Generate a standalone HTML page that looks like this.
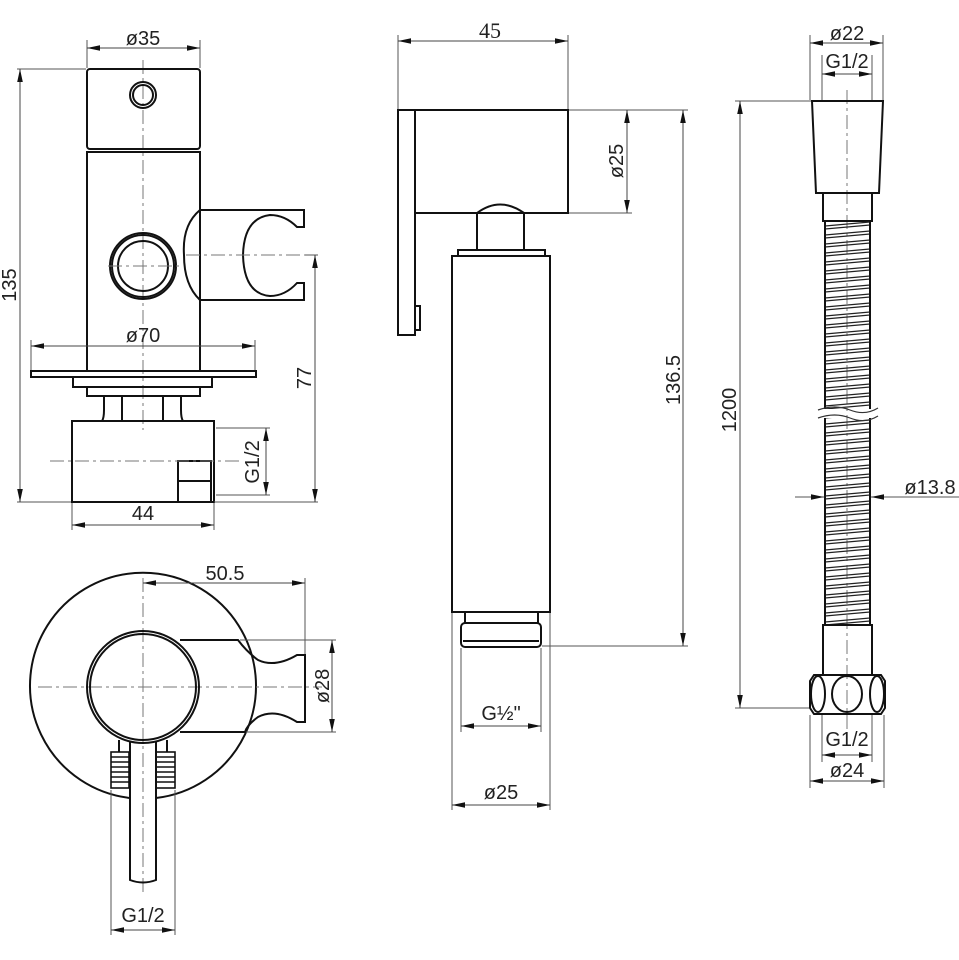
<!DOCTYPE html>
<html><head><meta charset="utf-8"><style>
html,body{margin:0;padding:0;background:#fff;}
svg{display:block;}
text{font-family:"Liberation Sans",sans-serif;font-size:20px;fill:#222;}
.o{fill:none;stroke:#111;stroke-width:2;}
.d{fill:none;stroke:#555;stroke-width:1;}
.c{fill:none;stroke:#777;stroke-width:1;stroke-dasharray:14,4,3,4;}
.a{fill:none;stroke:#444;stroke-width:1;marker-start:url(#ms);marker-end:url(#me);}
</style></head><body>
<svg width="959" height="960" viewBox="0 0 959 960" xmlns="http://www.w3.org/2000/svg">
<defs>
<marker id="me" markerWidth="14" markerHeight="8" refX="13" refY="4" orient="auto" markerUnits="userSpaceOnUse"><path d="M0,1.2 L13,4 L0,6.8Z" fill="#111"/></marker>
<marker id="ms" markerWidth="14" markerHeight="8" refX="1" refY="4" orient="auto" markerUnits="userSpaceOnUse"><path d="M14,1.2 L1,4 L14,6.8Z" fill="#111"/></marker>
<pattern id="rib" x="825" y="221" width="45" height="9" patternUnits="userSpaceOnUse">
<path d="M0,5 L45,1 M0,8 L45,4" stroke="#222" stroke-width="1.3" fill="none"/>
</pattern>
</defs>

<!-- ===== LEFT SIDE VIEW ===== -->
<line class="c" x1="143" y1="60" x2="143" y2="430"/>
<rect class="o" x="87" y="69" width="113" height="80" rx="3"/>
<rect class="o" x="87" y="152" width="113" height="219"/>
<circle class="o" cx="143" cy="95" r="13"/>
<circle class="o" cx="143" cy="95" r="10"/>
<circle class="o" cx="143" cy="266" r="33"/>
<circle class="o" cx="143" cy="266" r="31"/>
<circle class="o" cx="143" cy="266" r="25"/>
<line class="c" x1="108" y1="266" x2="180" y2="266"/>
<path class="o" d="M200,210 Q182,225 184,255 Q184,285 200,300 L304,300 L304,283 L297,283 Q285,296 270,296 Q244,294 243,255 Q244,218 270,215 Q285,215 297,227 L304,227 L304,210 Z"/>
<line class="c" x1="186" y1="255" x2="318" y2="255"/>
<rect class="o" x="31" y="371" width="225" height="6"/>
<rect class="o" x="73" y="377" width="139" height="10"/>
<rect class="o" x="87" y="387" width="113" height="9"/>
<path class="o" d="M104,396 L104,410 Q104,418 102,421 L183,421 Q181,418 181,410 L181,396"/>
<line class="o" x1="122" y1="396" x2="122" y2="421"/>
<line class="o" x1="163" y1="396" x2="163" y2="421"/>
<rect class="o" x="72" y="421" width="142" height="81"/>
<rect class="o" x="178" y="461" width="33" height="41"/>
<line class="o" x1="178" y1="481" x2="211" y2="481"/>
<line class="c" x1="50" y1="461" x2="240" y2="461"/>
<!-- dims -->
<line class="d" x1="87" y1="40" x2="87" y2="68"/>
<line class="d" x1="200" y1="40" x2="200" y2="68"/>
<line class="a" x1="87" y1="48" x2="200" y2="48"/>
<text x="143" y="45" text-anchor="middle">ø35</text>
<line class="d" x1="17" y1="69" x2="86" y2="69"/>
<line class="d" x1="17" y1="502" x2="71" y2="502"/>
<line class="a" x1="20" y1="69" x2="20" y2="502"/>
<text transform="translate(16,285) rotate(-90)" text-anchor="middle">135</text>
<line class="d" x1="31" y1="340" x2="31" y2="370"/>
<line class="d" x1="255" y1="340" x2="255" y2="370"/>
<line class="a" x1="31" y1="346" x2="255" y2="346"/>
<text x="143" y="342" text-anchor="middle">ø70</text>
<line class="d" x1="305" y1="255" x2="318" y2="255"/>
<line class="d" x1="214" y1="502" x2="318" y2="502"/>
<line class="a" x1="315" y1="255" x2="315" y2="502"/>
<text transform="translate(311,378) rotate(-90)" text-anchor="middle">77</text>
<line class="d" x1="216" y1="428" x2="270" y2="428"/>
<line class="d" x1="216" y1="495" x2="270" y2="495"/>
<line class="a" x1="266" y1="428" x2="266" y2="495"/>
<text transform="translate(259,462) rotate(-90)" text-anchor="middle">G1/2</text>
<line class="d" x1="72" y1="503" x2="72" y2="530"/>
<line class="d" x1="214" y1="503" x2="214" y2="530"/>
<line class="a" x1="72" y1="525" x2="214" y2="525"/>
<text x="143" y="520" text-anchor="middle">44</text>

<!-- ===== LEFT FRONT VIEW ===== -->
<path class="o" d="M130,798 A113,113 0 1 1 156,798"/>
<line class="c" x1="143" y1="578" x2="143" y2="895"/>
<line class="c" x1="38" y1="687" x2="322" y2="687"/>
<path class="o" d="M180,640 L238,640 Q247,652 258,660 Q275,668 297,655 L305,655 L305,722 L297,722 Q275,708 258,717 Q247,725 245,732 L180,732"/>
<circle class="o" cx="143" cy="687" r="56"/>
<circle class="o" cx="143" cy="687" r="53"/>
<path class="o" d="M130,742 L130,880 Q143,885 156,880 L156,742"/>
<line class="o" x1="119" y1="740" x2="119" y2="752"/>
<line class="o" x1="167" y1="740" x2="167" y2="752"/>
<g class="o" style="stroke-width:1.6">
<rect x="111" y="752" width="18" height="36"/>
<rect x="156" y="752" width="19" height="36"/>
<path d="M111,757 H129 M111,762 H129 M111,767 H129 M111,772 H129 M111,777 H129 M111,782 H129 M156,757 H175 M156,762 H175 M156,767 H175 M156,772 H175 M156,777 H175 M156,782 H175"/>
</g>
<line class="d" x1="305" y1="578" x2="305" y2="654"/>
<line class="a" x1="143" y1="583" x2="305" y2="583"/>
<text x="225" y="580" text-anchor="middle">50.5</text>
<line class="d" x1="240" y1="640" x2="336" y2="640"/>
<line class="d" x1="246" y1="732" x2="336" y2="732"/>
<line class="a" x1="332" y1="640" x2="332" y2="732"/>
<text transform="translate(329,686) rotate(-90)" text-anchor="middle">ø28</text>
<line class="d" x1="111" y1="790" x2="111" y2="935"/>
<line class="d" x1="175" y1="790" x2="175" y2="935"/>
<line class="a" x1="111" y1="930" x2="175" y2="930"/>
<text x="143" y="922" text-anchor="middle">G1/2</text>

<!-- ===== MIDDLE HAND SHOWER ===== -->
<rect class="o" x="398" y="110" width="17" height="225"/>
<rect class="o" x="415" y="306" width="5" height="24"/>
<rect class="o" x="415" y="110" width="153" height="103"/>
<path class="o" d="M477,250 L477,213 Q500,196 524,213 L524,250"/>
<rect class="o" x="458" y="250" width="87" height="6"/>
<rect class="o" x="452" y="256" width="98" height="356"/>
<rect class="o" x="465" y="612" width="73" height="11"/>
<rect class="o" x="461" y="623" width="80" height="24" rx="4"/>
<line class="o" x1="463" y1="641" x2="539" y2="641"/>
<line class="d" x1="398" y1="35" x2="398" y2="109"/>
<line class="d" x1="568" y1="35" x2="568" y2="109"/>
<line class="a" x1="398" y1="41" x2="568" y2="41"/>
<text x="490" y="38" text-anchor="middle" style="font-family:'Liberation Serif',serif;font-size:22px">45</text>
<line class="d" x1="569" y1="110" x2="688" y2="110"/>
<line class="d" x1="569" y1="213" x2="632" y2="213"/>
<line class="a" x1="627" y1="110" x2="627" y2="213"/>
<text transform="translate(623,161) rotate(-90)" text-anchor="middle">ø25</text>
<line class="d" x1="542" y1="646" x2="688" y2="646"/>
<line class="a" x1="683" y1="110" x2="683" y2="646"/>
<text transform="translate(680,380) rotate(-90)" text-anchor="middle">136.5</text>
<line class="d" x1="461" y1="648" x2="461" y2="732"/>
<line class="d" x1="541" y1="648" x2="541" y2="732"/>
<line class="a" x1="461" y1="726" x2="541" y2="726"/>
<text x="501" y="720" text-anchor="middle">G½"</text>
<line class="d" x1="452" y1="613" x2="452" y2="810"/>
<line class="d" x1="550" y1="613" x2="550" y2="810"/>
<line class="a" x1="452" y1="805" x2="550" y2="805"/>
<text x="501" y="799" text-anchor="middle">ø25</text>

<!-- ===== HOSE ===== -->
<line class="c" x1="847" y1="90" x2="847" y2="730"/>
<path class="o" d="M812,101 L883,101 L879,193 L816,193 Z"/>
<rect class="o" x="823" y="193" width="49" height="28"/>
<rect x="825" y="221" width="45" height="188" fill="url(#rib)"/>
<rect x="825" y="418" width="45" height="207" fill="url(#rib)"/>
<path class="o" d="M825,221 V409 M870,221 V409 M825,418 V625 M870,418 V625"/>
<path d="M818,410 Q835,404 850,410 T878,408 M818,418 Q835,412 850,418 T878,416" stroke="#333" stroke-width="1.2" fill="none"/>
<rect class="o" x="823" y="625" width="49" height="50"/>
<path class="o" d="M814,675 L881,675 L885,681 L885,708 L881,714 L814,714 L810,708 L810,681 Z"/>
<ellipse class="o" cx="818" cy="694" rx="7" ry="18"/>
<ellipse class="o" cx="847" cy="694" rx="15" ry="18"/>
<ellipse class="o" cx="877" cy="694" rx="7" ry="18"/>
<line class="d" x1="810" y1="35" x2="810" y2="100"/>
<line class="d" x1="883" y1="35" x2="883" y2="100"/>
<line class="a" x1="810" y1="43" x2="883" y2="43"/>
<text x="847" y="40" text-anchor="middle">ø22</text>
<line class="d" x1="822" y1="55" x2="822" y2="100"/>
<line class="d" x1="872" y1="55" x2="872" y2="100"/>
<line class="a" x1="822" y1="74" x2="872" y2="74"/>
<text x="847" y="68" text-anchor="middle">G1/2</text>
<line class="d" x1="735" y1="101" x2="811" y2="101"/>
<line class="d" x1="735" y1="708" x2="809" y2="708"/>
<line class="a" x1="740" y1="101" x2="740" y2="708"/>
<text transform="translate(736,410) rotate(-90)" text-anchor="middle">1200</text>
<line class="d" x1="795" y1="497" x2="824" y2="497" marker-end="url(#me)"/>
<line class="d" x1="959" y1="497" x2="871" y2="497" marker-end="url(#me)"/>
<text x="930" y="494" text-anchor="middle">ø13.8</text>
<line class="d" x1="822" y1="715" x2="822" y2="762"/>
<line class="d" x1="872" y1="715" x2="872" y2="762"/>
<line class="a" x1="822" y1="755" x2="872" y2="755"/>
<text x="847" y="746" text-anchor="middle">G1/2</text>
<line class="d" x1="810" y1="715" x2="810" y2="788"/>
<line class="d" x1="884" y1="715" x2="884" y2="788"/>
<line class="a" x1="810" y1="781" x2="884" y2="781"/>
<text x="847" y="777" text-anchor="middle">ø24</text>
</svg>
</body></html>
